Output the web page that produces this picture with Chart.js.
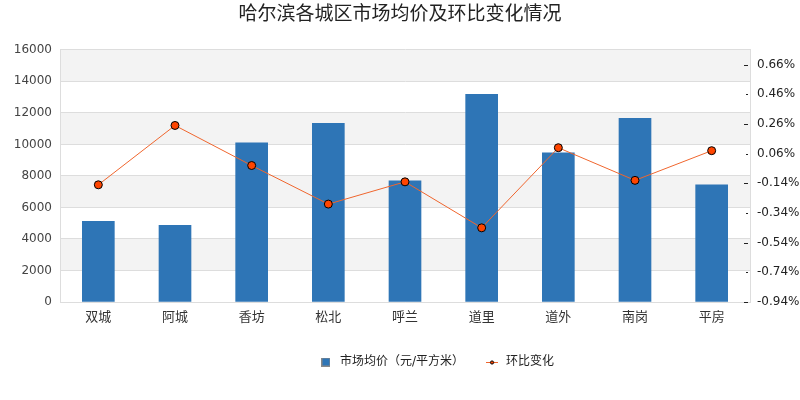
<!DOCTYPE html>
<html>
<head>
<meta charset="utf-8">
<script src="https://cdn.jsdelivr.net/npm/chart.js@4/dist/chart.umd.min.js"></script>
<style>
  html, body { margin: 0; padding: 0; background: #fff; }
</style>
</head>
<body>
<canvas id="grafico" width="800" height="400"></canvas>
<script>
// categorías y series
const distritos = ['双城', '阿城', '香坊', '松北', '呼兰', '道里', '道外', '南岗', '平房'];
const precioMedio = [5120, 4870, 10100, 11330, 7680, 13180, 9470, 11650, 7430];
const variacion = [-0.15, 0.25, -0.02, -0.28, -0.13, -0.44, 0.10, -0.12, 0.08];

// ticks del eje derecho (cada 0.1, etiqueta cada 0.2)
const ticksDerecha = [-0.94, -0.84, -0.74, -0.64, -0.54, -0.44, -0.34, -0.24, -0.14,
                      -0.04, 0.06, 0.16, 0.26, 0.36, 0.46, 0.56, 0.66];

const FUENTE = '"DejaVu Sans", "Noto Sans CJK SC", sans-serif';

// franjas grises alternas del fondo
const franjas = {
    id: 'franjas',
    beforeDraw(chart) {
        const { ctx, chartArea, scales } = chart;
        const y = scales.y;
        ctx.save();
        ctx.fillStyle = '#f3f3f3';
        for (let v = 2000; v < 16000; v += 4000) {
            const top = y.getPixelForValue(v + 2000);
            const bot = y.getPixelForValue(v);
            ctx.fillRect(chartArea.left, top, chartArea.right - chartArea.left, bot - top);
        }
        ctx.restore();
    }
};

// marcas del eje derecho dibujadas hacia dentro
const marcasDerecha = {
    id: 'marcasDerecha',
    afterDraw(chart) {
        const { ctx } = chart;
        const y1 = chart.scales.y1;
        const x = chart.chartArea.right - 2;
        ctx.save();
        ctx.strokeStyle = '#222';
        ctx.lineWidth = 1;
        y1.ticks.forEach((t, i) => {
            const py = Math.round(y1.getPixelForValue(t.value)) + 0.5;
            const largo = i % 2 === 0 ? 4 : 2;
            ctx.beginPath();
            ctx.moveTo(x - largo, py);
            ctx.lineTo(x, py);
            ctx.stroke();
        });
        ctx.restore();
    }
};

// la leyenda del original no está centrada, se desplaza a la derecha
const moverLeyenda = {
    id: 'moverLeyenda',
    beforeDraw(chart) {
        const l = chart.legend;
        if (l && !l._movida) {
            l.left += 36;
            l.right += 36;
            l._movida = true;
        }
    }
};

// iconos de la leyenda
const iconoBarra = document.createElement('canvas');
iconoBarra.width = 9;
iconoBarra.height = 9;
(function () {
    const c = iconoBarra.getContext('2d');
    c.fillStyle = '#2e75b6';
    c.fillRect(0, 0, 9, 9);
    c.strokeStyle = '#888';
    c.lineWidth = 1;
    c.strokeRect(0.5, 0.5, 8, 8);
})();

const iconoLinea = document.createElement('canvas');
iconoLinea.width = 12;
iconoLinea.height = 8;
(function () {
    const c = iconoLinea.getContext('2d');
    c.strokeStyle = '#f0662e';
    c.lineWidth = 1;
    c.beginPath();
    c.moveTo(0, 4.5);
    c.lineTo(12, 4.5);
    c.stroke();
    c.fillStyle = '#ff4500';
    c.strokeStyle = '#000';
    c.beginPath();
    c.arc(6, 4.5, 1.6, 0, Math.PI * 2);
    c.fill();
    c.stroke();
})();

const ctx = document.getElementById('grafico').getContext('2d');

new Chart(ctx, {
    data: {
        labels: distritos,
        datasets: [
            {
                type: 'line',
                label: '环比变化',
                data: variacion,
                yAxisID: 'y1',
                borderColor: '#f0662e',
                borderWidth: 1,
                pointBackgroundColor: '#ff4500',
                pointBorderColor: '#000',
                pointBorderWidth: 1,
                pointRadius: 4,
                pointStyle: 'circle',
                tension: 0,
                order: 0
            },
            {
                type: 'bar',
                label: '市场均价（元/平方米）',
                data: precioMedio,
                yAxisID: 'y',
                backgroundColor: '#2e75b6',
                barThickness: 32,
                order: 1
            }
        ]
    },
    options: {
        responsive: false,
        animation: false,
        devicePixelRatio: 1,
        layout: { padding: { left: 0, right: 0, top: 0, bottom: 22 } },
        plugins: {
            title: {
                display: true,
                text: '哈尔滨各城区市场均价及环比变化情况',
                color: '#222',
                font: { family: FUENTE, size: 19, weight: 'normal' },
                padding: { top: 4, bottom: 23 }
            },
            legend: {
                position: 'bottom',
                reverse: true,
                labels: {
                    usePointStyle: true,
                    pointStyleWidth: 16,
                    boxHeight: 8,
                    padding: 20,
                    color: '#222',
                    font: { family: FUENTE, size: 12 },
                    generateLabels(chart) {
                        const items = Chart.defaults.plugins.legend.labels.generateLabels(chart);
                        items.forEach(it => {
                            it.pointStyle = it.datasetIndex === 0 ? iconoLinea : iconoBarra;
                        });
                        return items;
                    }
                }
            },
            tooltip: { enabled: false }
        },
        scales: {
            x: {
                grid: { display: false, drawTicks: false },
                border: { color: '#ddd' },
                ticks: { color: '#333', font: { family: FUENTE, size: 13 }, padding: 8, maxRotation: 0, autoSkip: false },
                afterFit(scale) { scale.height = 34; }
            },
            y: {
                position: 'left',
                min: 0,
                max: 16000,
                grid: { color: '#ddd', drawTicks: false },
                border: { color: '#ddd' },
                ticks: {
                    stepSize: 2000,
                    color: '#444',
                    padding: 8,
                    font: { family: FUENTE, size: 12 },
                    callback: v => String(v)
                },
                afterFit(scale) { scale.width = 60; }
            },
            y1: {
                position: 'right',
                min: -0.94,
                max: 0.76,
                grid: { drawOnChartArea: false, drawTicks: false },
                border: { color: '#ddd' },
                afterBuildTicks(scale) {
                    scale.ticks = ticksDerecha.map(v => ({ value: v }));
                },
                ticks: {
                    color: '#222',
                    padding: 7,
                    font: { family: FUENTE, size: 12 },
                    callback(value, index) {
                        return index % 2 === 0 ? value.toFixed(2) + '%' : '';
                    }
                },
                afterFit(scale) { scale.width = 50; }
            }
        }
    },
    plugins: [franjas, marcasDerecha, moverLeyenda]
});
</script>
</body>
</html>
